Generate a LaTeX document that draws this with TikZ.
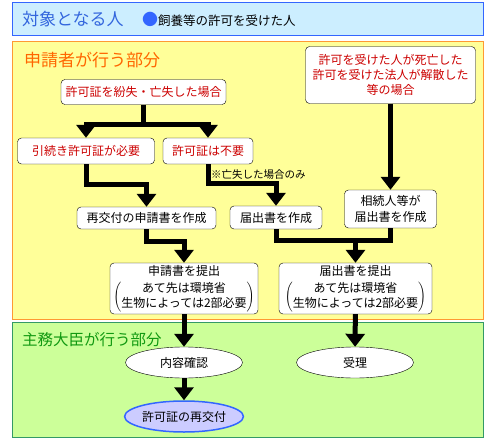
\documentclass[tikz,border=0pt]{standalone}
\usepackage{fontspec}
\setmainfont{Noto Sans CJK JP}
\usepackage{tikz}
\usetikzlibrary{arrows.meta,shapes.geometric}
\definecolor{skyfill}{HTML}{CCEEFF}
\definecolor{skyline}{HTML}{3366FF}
\definecolor{skytext}{HTML}{3366DD}
\definecolor{lemonfill}{HTML}{FFFF99}
\definecolor{lemonline}{HTML}{FF9933}
\definecolor{lemontext}{HTML}{FF6600}
\definecolor{limefill}{HTML}{CCFF99}
\definecolor{limeline}{HTML}{339966}
\definecolor{limetext}{HTML}{119911}
\definecolor{alertred}{HTML}{CC0000}
\definecolor{lilac}{HTML}{CCCCFF}

\begin{document}
\begin{tikzpicture}[x=1pt,y=-1pt,
    >={Triangle[width=19pt,length=13pt]},
    flow/.style={line width=5pt},
    box/.style={draw,rounded corners=4pt,fill=white,align=center,inner sep=0pt,
        font=\fontsize{12}{16}\selectfont},
    redbox/.style={box,text=alertred},
    oval/.style={ellipse,draw,fill=white,inner sep=0pt,minimum width=117pt,
        minimum height=31pt,font=\fontsize{12}{15}\selectfont},
    zonetitle/.style={anchor=west,inner sep=0pt,font=\fontsize{17}{20}\selectfont},
    note/.style={anchor=west,inner sep=0pt,font=\fontsize{10.5}{12}\selectfont}
    ]
    \fill[white] (0,0) rectangle (485,439);
    \useasboundingbox (0,0) rectangle (485,439);

    \draw[fill=skyfill,draw=skyline,line width=1pt] (12,2) rectangle (483,35);
    \draw[fill=lemonfill,draw=lemonline,line width=1pt] (12,41) rectangle (483,319);
    \draw[fill=limefill,draw=limeline,line width=1pt] (12,322) rectangle (483,437);

    \node[zonetitle,text=skytext] (target) at (22,19) {対象となる人};
    \node[anchor=west,inner sep=0pt,font=\fontsize{12.5}{15}\selectfont] (who) at (142,19)
        {\textcolor{skyline}{\fontsize{16}{15}\selectfont ●}飼養等の許可を受けた人};
    \node[zonetitle,text=lemontext] (applicant) at (24,60) {申請者が行う部分};
    \node[zonetitle,text=limetext,font=\fontsize{15.5}{18}\selectfont] (minister) at (22,340) {主務大臣が行う部分};

    \node[redbox,minimum width=165pt,minimum height=25pt] (lost) at (143.5,92) {許可証を紛失・亡失した場合};
    \node[redbox,minimum width=170pt,minimum height=57pt,font=\fontsize{12}{15}\selectfont] (death) at (390.5,75)
        {許可を受けた人が死亡した\\許可を受けた法人が解散した\\等の場合};
    \node[redbox,minimum width=137pt,minimum height=26pt] (need) at (86,151) {引続き許可証が必要};
    \node[redbox,minimum width=90pt,minimum height=26pt] (noneed) at (208,151) {許可証は不要};
    \node[box,minimum width=139pt,minimum height=22pt] (reissue) at (146.5,218) {再交付の申請書を作成};
    \node[box,minimum width=92pt,minimum height=23pt] (notice) at (276,217.5) {届出書を作成};
    \node[box,minimum width=92pt,minimum height=38pt] (heir) at (390.5,209) {相続人等が\\届出書を作成};
    \node[box,minimum width=148pt,minimum height=51pt,font=\fontsize{12}{15}\selectfont] (submitA) at (184,288.5)
        {申請書を提出\\[5pt]$\left(\begin{tabular}{@{}c@{}}あて先は環境省\\生物によっては2部必要\end{tabular}\right)$};
    \node[box,minimum width=153pt,minimum height=51pt,font=\fontsize{12}{15}\selectfont] (submitB) at (355.5,288.5)
        {届出書を提出\\[5pt]$\left(\begin{tabular}{@{}c@{}}あて先は環境省\\生物によっては2部必要\end{tabular}\right)$};
    \node[note] (onlylost) at (211,175) {※亡失した場合のみ};

    \node[oval] (check) at (184,362.5) {内容確認};
    \node[oval] (accept) at (355,362.5) {受理};
    \node[oval,fill=lilac,draw=skyline,line width=1.5pt,minimum width=107pt] (permit) at (184,416.5) {許可証の再交付};

    \coordinate (split) at (143.5,124);
    \coordinate (merge) at (355.5,240);
    \draw[flow] (lost) -- (split);
    \draw[flow,->] (split) -| (need);
    \draw[flow,->] (split) -| (noneed);
    \draw[flow,->] (need.south) -- ++(0,20) -| (reissue);
    \draw[flow,->] (noneed.south) -- ++(0,19) -| (notice);
    \draw[flow,->] (reissue.south) -- ++(0,12) -| (submitA);
    \draw[flow] (notice) |- (merge) -| (heir);
    \path[flow,->] (death) edge (heir);
    \path[flow,->] (merge) edge (submitB);
    \path[flow,->] (submitA) edge (check);
    \path[flow,->] (submitB) edge (accept);
    \path[flow,->] (check) edge (permit);
\end{tikzpicture}
\end{document}
